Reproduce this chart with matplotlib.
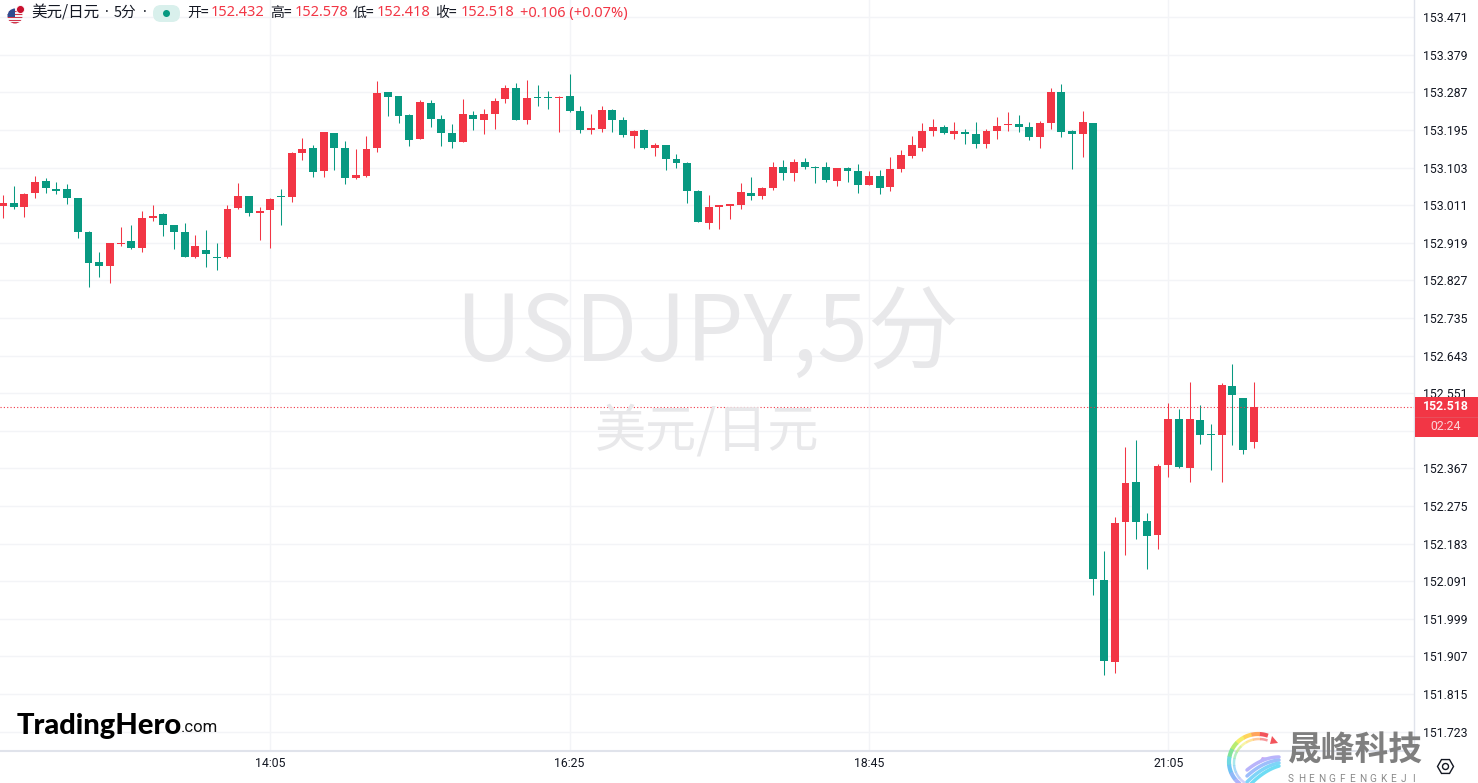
import matplotlib
matplotlib.use("Agg")
import matplotlib.pyplot as plt
from matplotlib.patches import Circle, FancyBboxPatch, Rectangle, RegularPolygon
import numpy as np

plt.rcParams['font.family'] = ['Noto Sans CJK SC', 'DejaVu Sans']

opens = [153.009,153.016,153.007,153.041,153.070,153.051,153.051,153.029,152.945,152.872,
 152.862,152.916,152.923,152.906,152.980,152.990,152.963,152.945,152.884,152.901,
 152.884,152.884,153.004,153.034,152.992,152.999,153.034,153.031,153.139,153.151,
 153.095,153.188,153.151,153.078,153.082,153.151,153.288,153.278,153.232,153.173,
 153.261,153.222,153.188,153.166,153.232,153.220,153.234,153.271,153.298,153.220,
 153.276,153.276,153.273,153.278,153.241,153.195,153.198,153.244,153.220,153.180,
 153.195,153.151,153.158,153.124,153.114,153.046,152.968,153.007,153.009,153.012,
 153.041,153.034,153.053,153.105,153.090,153.117,153.105,153.105,153.070,153.102,
 153.095,153.060,153.082,153.056,153.100,153.131,153.151,153.193,153.202,153.185,
 153.190,153.185,153.161,153.193,153.207,153.210,153.202,153.178,153.212,153.288,
 153.193,153.185,153.212,152.094,151.893,152.236,152.334,152.238,152.204,152.375,
 152.488,152.368,152.485,152.451,152.449,152.569,152.539,152.432]
highs = [153.036,153.058,153.041,153.082,153.078,153.068,153.063,153.029,152.948,152.896,
 152.919,152.958,152.963,152.997,153.012,152.992,152.963,152.968,152.938,152.950,
 152.919,153.012,153.065,153.034,153.007,153.029,153.051,153.141,153.175,153.158,
 153.190,153.188,153.168,153.149,153.180,153.315,153.288,153.278,153.234,153.268,
 153.268,153.232,153.210,153.271,153.241,153.246,153.273,153.305,153.310,153.317,
 153.305,153.290,153.278,153.332,153.254,153.234,153.254,153.246,153.227,153.195,
 153.198,153.163,153.158,153.136,153.117,153.048,153.036,153.012,153.014,153.065,
 153.080,153.056,153.117,153.122,153.124,153.127,153.107,153.117,153.102,153.105,
 153.112,153.095,153.097,153.129,153.146,153.180,153.212,153.222,153.207,153.215,
 153.197,153.215,153.197,153.227,153.239,153.232,153.215,153.217,153.298,153.307,
 153.195,153.241,153.212,152.165,152.248,152.419,152.436,152.258,152.378,152.527,
 152.512,152.578,152.522,152.476,152.576,152.622,152.539,152.578]
lows = [152.980,153.002,152.982,153.029,153.041,153.038,153.014,152.931,152.811,152.835,
 152.821,152.911,152.904,152.896,152.972,152.936,152.904,152.884,152.882,152.860,
 152.853,152.882,153.002,152.985,152.926,152.906,152.963,153.019,153.122,153.080,
 153.080,153.097,153.063,153.075,153.080,153.141,153.229,153.212,153.156,153.173,
 153.202,153.156,153.151,153.166,153.195,153.185,153.197,153.261,153.220,153.210,
 153.254,153.246,153.190,153.239,153.188,153.185,153.190,153.190,153.178,153.151,
 153.149,153.131,153.097,153.102,153.016,152.970,152.953,152.953,152.977,153.002,
 153.024,153.026,153.048,153.073,153.070,153.100,153.065,153.068,153.058,153.068,
 153.041,153.060,153.038,153.046,153.092,153.127,153.144,153.180,153.185,153.173,
 153.161,153.151,153.151,153.173,153.193,153.190,153.171,153.151,153.197,153.178,
 153.100,153.129,152.057,151.861,151.866,152.155,152.194,152.121,152.170,152.346,
 152.368,152.334,152.427,152.363,152.334,152.424,152.402,152.418]
closes = [153.016,153.007,153.038,153.068,153.053,153.046,153.029,152.945,152.870,152.862,
 152.919,152.919,152.906,152.980,152.985,152.963,152.945,152.884,152.911,152.892,
 152.882,153.002,153.034,152.992,152.997,153.026,153.031,153.139,153.149,153.092,
 153.190,153.151,153.078,153.085,153.149,153.286,153.276,153.229,153.171,153.264,
 153.222,153.188,153.166,153.234,153.222,153.234,153.266,153.298,153.220,153.273,
 153.273,153.273,153.276,153.241,153.195,153.200,153.244,153.220,153.183,153.193,
 153.151,153.158,153.124,153.114,153.046,152.970,153.007,153.012,153.014,153.043,
 153.034,153.053,153.105,153.090,153.117,153.105,153.102,153.073,153.102,153.095,
 153.060,153.082,153.053,153.100,153.134,153.158,153.193,153.202,153.188,153.193,
 153.185,153.161,153.193,153.205,153.210,153.202,153.178,153.212,153.288,153.190,
 153.185,153.215,152.096,151.896,152.233,152.331,152.236,152.202,152.373,152.488,
 152.370,152.488,152.449,152.449,152.571,152.547,152.412,152.518]

price_ticks = [153.471,153.379,153.287,153.195,153.103,153.011,152.919,152.827,152.735,152.643,
               152.551,152.459,152.367,152.275,152.183,152.091,151.999,151.907,151.815,151.723]
hidden_price_tick = 152.459
time_ticks = [25, 53, 81, 109]
time_labels = ['14:05', '16:25', '18:45', '21:05']
last_price = 152.518
countdown = '02:24'

UP = '#F23645'
DOWN = '#089981'
GRID = '#F3F4F7'
AXIS = '#E0E3EB'
TXT = '#131722'

W, H = 1478, 783
fig = plt.figure(figsize=(W/100, H/100), dpi=100, facecolor='white')
ax = fig.add_axes([0, (H-751)/H, 1414/W, 751/H])

x = np.arange(len(opens))
o, h, l, c = map(np.array, (opens, highs, lows, closes))
col = np.where(c >= o, UP, DOWN)
ax.vlines(x, l, h, colors=col, linewidth=0.75, zorder=3)
ax.bar(x, np.maximum(np.abs(c-o), 0.002), bottom=np.minimum(o, c), width=0.74, color=col, linewidth=0, zorder=4)

ax.set_xlim(-0.28, 131.99)
ax.set_ylim(151.6756, 153.5131)
ax.set_yticks(price_ticks)
ax.set_yticklabels(['' if t == hidden_price_tick else f'{t:.3f}' for t in price_ticks])
ax.set_xticks(time_ticks)
ax.set_xticklabels(time_labels)
ax.yaxis.tick_right()
ax.tick_params(axis='both', length=0, labelsize=8.8, labelcolor=TXT)
ax.tick_params(axis='y', pad=6.5)
ax.tick_params(axis='x', pad=4)
for lab in ax.get_xticklabels() + ax.get_yticklabels():
    lab.set_family(['Roboto', 'DejaVu Sans'])
ax.grid(True, color=GRID, linewidth=1.0, zorder=0)
ax.set_axisbelow(True)
for s in ['top', 'left']:
    ax.spines[s].set_visible(False)
ax.spines['right'].set_color(AXIS)
ax.spines['right'].set_linewidth(1.0)
ax.spines['bottom'].set_color(AXIS)
ax.spines['bottom'].set_linewidth(1.5)

ax.axhline(last_price, color=UP, linewidth=0.8, linestyle=(0, (1, 2)), zorder=5)

ov = fig.add_axes([0, 0, 1, 1], facecolor='none')
ov.set_xlim(0, W); ov.set_ylim(H, 0); ov.axis('off')

WM = '#E8E8EA'
ov.text(707, 335, 'USDJPY,5分', fontsize=65.5, color=WM, ha='center', va='center', zorder=1)
ov.text(707, 432, '美元/日元', fontsize=36.8, color=WM, ha='center', va='center', zorder=1)

# header: flag
ov.add_patch(Circle((15, 16), 7.5, fc='#F4F4F6', ec='none'))
clip = Circle((15, 16), 7.5, transform=ov.transData)
for yy in (10.5, 13.5, 16.5, 19.5, 22):
    r = Rectangle((7, yy), 16, 1.5, fc='#D0354A', ec='none'); ov.add_patch(r); r.set_clip_path(clip)
r = Rectangle((7, 8), 8, 8.5, fc='#2F4B8F', ec='none'); ov.add_patch(r); r.set_clip_path(clip)
ov.add_patch(Circle((20.5, 9.5), 4, fc='#C8102E', ec='white', lw=0.6))

HF = 10.5
ov.text(31, 13, '美元/日元', fontsize=11.2, color=TXT, va='center')
ov.text(107, 13, '·', fontsize=10, color=TXT, va='center', ha='center', family=['Noto Sans', 'DejaVu Sans'])
ov.text(114, 13, '5分', fontsize=10.5, color=TXT, va='center')
ov.text(145, 13, '·', fontsize=10, color=TXT, va='center', ha='center', family=['Noto Sans', 'DejaVu Sans'])
ov.add_patch(FancyBboxPatch((153, 5), 27, 17, boxstyle='round,pad=0,rounding_size=8', fc='#D9F0EC', ec='none'))
ov.add_patch(Circle((166.5, 13.5), 3.5, fc=DOWN, ec='none'))
for xl, lab, xv, val in [(187, '开=', 211, '152.432'), (270, '高=', 294.5, '152.578'),
                         (352.5, '低=', 377, '152.418'), (435.5, '收=', 461, '152.518')]:
    ov.text(xl, 13, lab, fontsize=10, color=TXT, va='center')
    ov.text(xv, 13, val, fontsize=HF, color=UP, va='center', family=['Noto Sans', 'DejaVu Sans'])
ov.text(520, 13, '+0.106 (+0.07%)', fontsize=HF, color=UP, va='center', family=['Noto Sans', 'DejaVu Sans'])

# price box
ov.add_patch(Rectangle((1415, 397), 63, 40, fc=UP, ec='none', zorder=3))
ov.plot([1415, 1478], [417, 417], color='#E8505D', lw=0.7, zorder=4)
ov.text(1446, 407, '152.518', fontsize=8.8, color='white', ha='center', va='center', weight='bold',
        family=['Roboto', 'DejaVu Sans'], zorder=5)
ov.text(1446, 427, countdown, fontsize=8.8, color='#FBD5D9', ha='center', va='center',
        family=['Roboto', 'DejaVu Sans'], zorder=5)

# settings icon
ov.add_patch(RegularPolygon((1445.5, 766.5), 6, radius=8, orientation=np.pi/2, fc='white', ec=TXT, lw=1.0))
ov.add_patch(Circle((1445.5, 766.5), 3, fc='white', ec=TXT, lw=1.0))

# TradingHero logo
ov.text(17, 726, 'TradingHero', fontsize=21, color='black', va='center', weight='black', family=['Lato', 'DejaVu Sans'])
ov.text(181, 728, '.com', fontsize=12, color='#111111', va='center', family=['Roboto', 'DejaVu Sans'])

# bottom-right watermark
ov.text(1288, 750, '晟峰科技', fontsize=24.3, color='#7F7F7F', va='center', weight='bold')
for i, ch in enumerate('SHENGFENGKEJI'):
    ov.text(1291 + i*10.2, 778.5, ch, fontsize=7.2, color='#8A8A8A', va='center', ha='center',
            family=['Roboto', 'DejaVu Sans'])
cols = ['#F2545B', '#FFA45C', '#FFD45C', '#F4EE6C', '#B8EC70', '#7FE39A', '#6FD8E0', '#6FC4F4', '#8FB8F8', '#B0B4FA']
th = np.linspace(np.radians(70), np.radians(235), len(cols)+1)
for i, cc in enumerate(cols):
    t = np.linspace(th[i], th[i+1]+0.02, 8)
    ov.plot(1258+29*np.cos(t), 762-28*np.sin(t), color=cc, lw=3, solid_capstyle='butt')
    ov.plot(1259+25*np.cos(t), 763-24*np.sin(t), color=cc, lw=1.8, alpha=0.6, solid_capstyle='butt')
ov.add_patch(plt.Polygon([[1272, 736], [1278, 743], [1270, 744]], fc='#F2545B', ec='none'))
ov.add_patch(plt.Polygon([[1262, 757], [1270, 758], [1258, 764]], fc='#C9A8F5', ec='none'))
t = np.linspace(0, 1, 20)
for k, cc in enumerate(['#B9B4FB', '#9DBEFB', '#7FD4F8', '#6FDCF4']):
    ov.plot(1279-32*t, 757+k*3+13*t**2+k*t*3, color=cc, lw=2.5, solid_capstyle='round')

fig.savefig('out.png', dpi=100)
